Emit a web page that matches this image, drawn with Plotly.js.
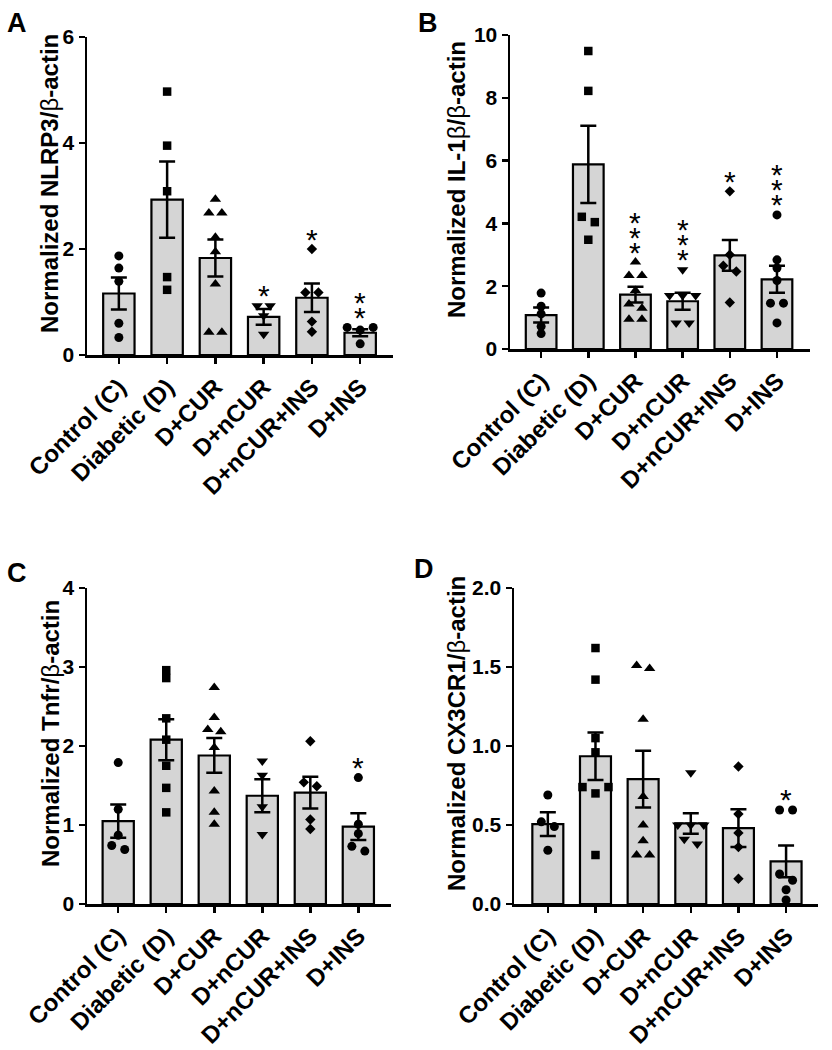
<!DOCTYPE html>
<html><head><meta charset="utf-8">
<script src="https://cdn.plot.ly/plotly-3.0.1.min.js"></script>
<style>html,body{margin:0;padding:0;background:#fff}</style>
</head><body>
<div id="chart" style="width:832px;height:1050px"></div>
<script>
// ---------------- DATA ----------------
const categories = ['Control (C)', 'Diabetic (D)', 'D+CUR', 'D+nCUR', 'D+nCUR+INS', 'D+INS'];

// Panel A: NLRP3
const nlrp3Mean = [1.16, 2.93, 1.83, 0.72, 1.08, 0.42];
const nlrp3Sem = [0.30, 0.72, 0.35, 0.15, 0.27, 0.065];
const nlrp3Points = [
  [1.87, 1.64, 1.39, 0.60, 0.33],
  [4.97, 3.95, 3.09, 1.47, 1.23],
  [2.94, 2.68, 2.68, 2.22, 1.95, 1.34, 0.43, 0.43],
  [0.93, 0.93, 0.74, 0.39],
  [2.00, 1.18, 1.18, 0.63, 0.44],
  [0.52, 0.52, 0.47, 0.21]
];
const nlrp3Stars = [0, 0, 0, 1, 1, 2];

// Panel B: IL-1beta
const il1bMean = [1.08, 5.88, 1.73, 1.52, 2.98, 2.22];
const il1bSem = [0.24, 1.23, 0.25, 0.27, 0.49, 0.43];
const il1bPoints = [
  [1.78, 1.36, 1.12, 0.72, 0.49],
  [9.49, 8.22, 4.21, 4.04, 3.48],
  [2.77, 2.34, 2.34, 1.86, 1.43, 1.30, 0.95, 0.95],
  [2.52, 1.70, 1.70, 1.70, 0.83, 0.83],
  [5.02, 3.00, 2.65, 2.47, 1.48],
  [4.27, 2.84, 2.58, 2.18, 1.46, 1.46, 0.83]
];
const il1bStars = [0, 0, 3, 3, 1, 3];

// Panel C: Tnfr
const tnfrMean = [1.05, 2.08, 1.88, 1.37, 1.41, 0.98];
const tnfrSem = [0.21, 0.26, 0.22, 0.21, 0.20, 0.17];
const tnfrPoints = [
  [1.79, 1.20, 0.87, 0.74, 0.69],
  [2.96, 2.86, 2.35, 2.08, 1.75, 1.47, 1.16],
  [2.74, 2.36, 2.21, 2.18, 1.98, 1.43, 1.16, 1.01],
  [1.81, 1.63, 1.23, 0.88],
  [2.06, 1.54, 1.49, 1.07, 0.95],
  [1.60, 1.01, 0.89, 0.73, 0.67]
];
const tnfrStars = [0, 0, 0, 0, 0, 1];

// Panel D: CX3CR1
const cx3cr1Mean = [0.505, 0.935, 0.79, 0.51, 0.48, 0.27];
const cx3cr1Sem = [0.075, 0.15, 0.18, 0.065, 0.12, 0.10];
const cx3cr1Points = [
  [0.69, 0.52, 0.49, 0.34],
  [1.62, 1.42, 1.05, 0.96, 0.74, 0.74, 0.70, 0.31],
  [1.51, 1.49, 1.17, 0.68, 0.50, 0.40, 0.31, 0.31],
  [0.83, 0.50, 0.50, 0.50, 0.41, 0.38],
  [0.87, 0.57, 0.45, 0.36, 0.16],
  [0.595, 0.595, 0.19, 0.15, 0.09, 0.025]
];
const cx3cr1Stars = [0, 0, 0, 0, 0, 1];

const yTitles = [
  'Normalized NLRP3/<span style="font-weight:normal">β</span>-actin',
  'Normalized IL-1<span style="font-weight:normal">β</span>/<span style="font-weight:normal">β</span>-actin',
  'Normalized Tnfr/<span style="font-weight:normal">β</span>-actin',
  'Normalized CX3CR1/<span style="font-weight:normal">β</span>-actin'
];
const panelLetters = ['A', 'B', 'C', 'D'];

// ---------------- STYLE / LAYOUT ----------------
const W = 832, H = 1050;
const FONT = 'Liberation Sans, Arial, Helvetica, sans-serif';
const symbols = ['circle', 'square', 'triangle-up', 'triangle-down', 'diamond', 'circle'];
const symSize = [9, 8.5, 10, 10, 8, 9];

const panels = [
  {mean: nlrp3Mean, sem: nlrp3Sem, pts: nlrp3Points, stars: nlrp3Stars,
   xpx: [87, 393], ypx: [37, 355], xr: [-0.66, 5.68], yr: [0, 6], dtick: 2, fmt: 'd',
   titleX: 50, letterX: 17, letterY: 23},
  {mean: il1bMean, sem: il1bSem, pts: il1bPoints, stars: il1bStars,
   xpx: [510, 810], ypx: [35, 349], xr: [-0.66, 5.70], yr: [0, 10], dtick: 2, fmt: 'd',
   titleX: 456, letterX: 428, letterY: 23},
  {mean: tnfrMean, sem: tnfrSem, pts: tnfrPoints, stars: tnfrStars,
   xpx: [87, 391], ypx: [588, 904], xr: [-0.65, 5.68], yr: [0, 4], dtick: 1, fmt: 'd',
   titleX: 50, letterX: 17, letterY: 573},
  {mean: cx3cr1Mean, sem: cx3cr1Sem, pts: cx3cr1Points, stars: cx3cr1Stars,
   xpx: [514, 818], ypx: [588, 904], xr: [-0.71, 5.67], yr: [0, 2], dtick: 0.5, fmt: '.1f',
   titleX: 456, letterX: 424, letterY: 569}
];

const traces = [];
const annotations = [];
const layout = {
  width: W, height: H,
  margin: {l: 0, r: 0, t: 0, b: 0},
  paper_bgcolor: '#fff', plot_bgcolor: 'rgba(0,0,0,0)',
  showlegend: false,
  font: {family: FONT, color: '#000'},
  annotations: annotations
};

// place points of a group side by side when they would overlap
function spread(values, pxPerUnit, stepUnits) {
  const order = values.map((v, i) => i).sort((a, b) => values[b] - values[a]);
  const offs = new Array(values.length).fill(0);
  let cluster = [];
  const flush = () => {
    const n = cluster.length;
    let pos;
    if (n === 1) pos = [0];
    else if (n === 2) pos = [-0.5, 0.5];
    else if (n === 3) pos = [-1, 1, 0];
    else pos = cluster.map((_, k) => k - (n - 1) / 2);
    cluster.forEach((idx, k) => { offs[idx] = pos[k] * stepUnits; });
    cluster = [];
  };
  order.forEach((idx, k) => {
    if (k > 0 && (values[order[k - 1]] - values[idx]) * pxPerUnit >= 7) flush();
    cluster.push(idx);
  });
  flush();
  return offs;
}

panels.forEach((p, pi) => {
  const n = pi + 1;
  const xa = 'x' + (n === 1 ? '' : n), ya = 'y' + (n === 1 ? '' : n);
  const xKey = 'xaxis' + (n === 1 ? '' : n), yKey = 'yaxis' + (n === 1 ? '' : n);
  const pxPerUnit = (p.ypx[1] - p.ypx[0]) / (p.yr[1] - p.yr[0]);
  const pxPerCat = (p.xpx[1] - p.xpx[0]) / (p.xr[1] - p.xr[0]);
  const idx = categories.map((c, i) => i);

  traces.push({
    type: 'bar', x: idx, y: p.mean, width: 0.65, xaxis: xa, yaxis: ya,
    marker: {color: '#d5d5d5', line: {color: '#000', width: 2.2}},
    error_y: {type: 'data', array: p.sem, visible: true, color: '#000', thickness: 2.5, width: 8},
    hoverinfo: 'skip'
  });

  p.pts.forEach((vals, gi) => {
    const offs = spread(vals, pxPerUnit, 13 / pxPerCat);
    traces.push({
      type: 'scatter', mode: 'markers', xaxis: xa, yaxis: ya, cliponaxis: false,
      x: vals.map((v, k) => gi + offs[k]), y: vals,
      marker: {symbol: symbols[gi], size: symSize[gi], color: '#000', line: {width: 0}},
      hoverinfo: 'skip'
    });
    const top = Math.max(...vals);
    for (let s = 0; s < p.stars[gi]; s++) {
      annotations.push({
        xref: xa, yref: ya, x: gi, y: top, text: '*', showarrow: false,
        yanchor: 'middle', xanchor: 'center', yshift: 10 + 15 * s,
        font: {family: FONT, size: 30, color: '#000'}
      });
    }
  });

  const axLine = {showline: true, linewidth: 2.5, linecolor: '#000', ticks: 'outside',
    ticklen: 6, tickwidth: 2.5, tickcolor: '#000', showgrid: false, zeroline: false, fixedrange: true};

  layout[xKey] = Object.assign({}, axLine, {
    domain: [p.xpx[0] / W, p.xpx[1] / W], range: p.xr, anchor: ya,
    tickmode: 'array', tickvals: idx, ticktext: categories, tickangle: -45,
    tickfont: {family: FONT, size: 24, weight: 'bold', color: '#000'}
  });
  layout[yKey] = Object.assign({}, axLine, {
    domain: [1 - p.ypx[1] / H, 1 - p.ypx[0] / H], range: p.yr, anchor: xa,
    tick0: 0, dtick: p.dtick, tickformat: p.fmt,
    tickfont: {family: FONT, size: 21, weight: 'bold', color: '#000'}
  });

  const titleCenter = (p.ypx[0] + p.ypx[1]) / 2 - 12;
  annotations.push({
    xref: 'paper', yref: 'paper', x: p.titleX / W, y: 1 - titleCenter / H,
    text: yTitles[pi], textangle: -90, showarrow: false, xanchor: 'center', yanchor: 'middle',
    font: {family: FONT, size: 24, weight: 'bold', color: '#000'}
  });
  annotations.push({
    xref: 'paper', yref: 'paper', x: p.letterX / W, y: 1 - p.letterY / H,
    text: panelLetters[pi], showarrow: false, xanchor: 'center', yanchor: 'middle',
    font: {family: FONT, size: 27, weight: 'bold', color: '#000'}
  });
});

Plotly.newPlot('chart', traces, layout, {staticPlot: true, displayModeBar: false});
</script>
</body></html>
